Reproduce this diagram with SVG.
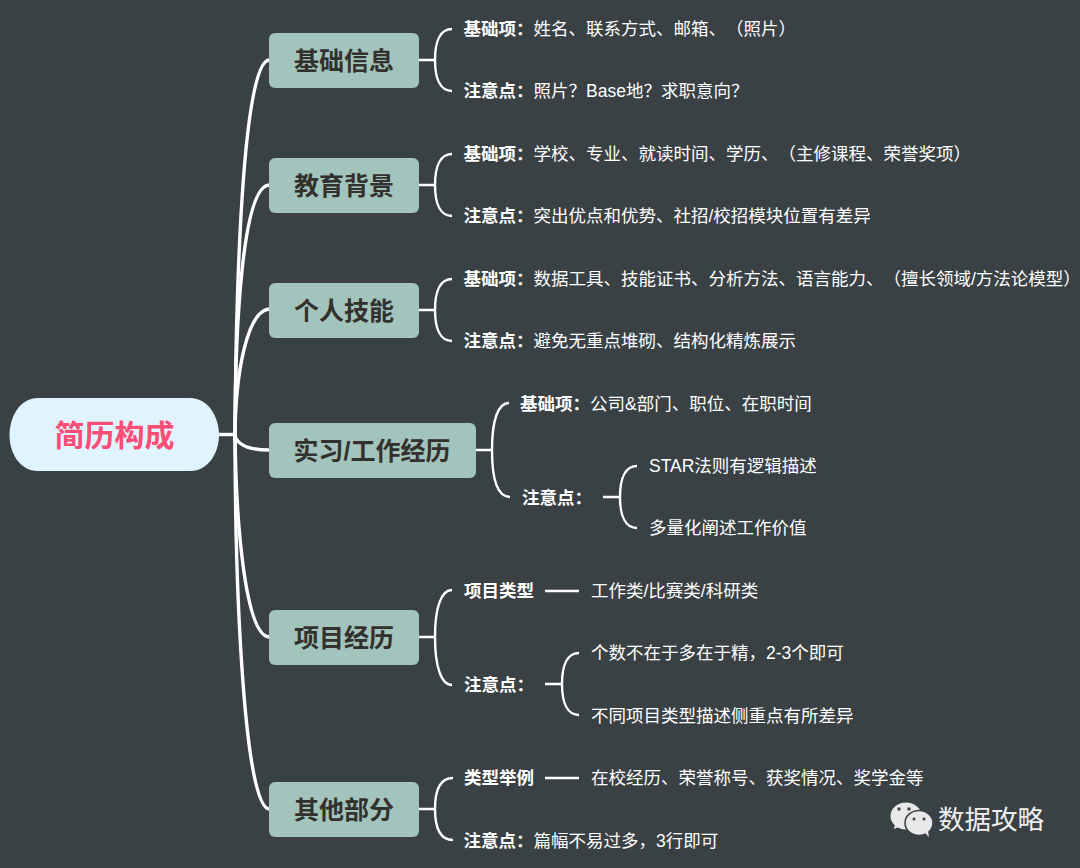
<svg xmlns="http://www.w3.org/2000/svg" width="1080" height="868" viewBox="0 0 1080 868">
<style>
text{font-family:"Liberation Sans","Noto Sans CJK SC",sans-serif;text-spacing-trim:space-all;text-autospace:no-autospace}
.t{font-size:25px;font-weight:700;fill:#33312e;text-anchor:middle}
.b{font-size:17.5px;font-weight:700;fill:#fff}
.n{font-size:17.5px;fill:#fff}
.box{fill:#a2c4bd}
.c{fill:none;stroke:#fff;stroke-linecap:butt}
.c3{stroke-width:3.4}
.c2{stroke-width:2.4}
</style>
<rect width="1080" height="868" fill="#3a4144"/>
<g id="connectors">
<path class="c c3" d="M219 434.500H235"/>
<path class="c c3" d="M235 440C236 250 245 62 269 60"/>
<path class="c c3" d="M235 440C235 320 243 187 269 185"/>
<path class="c c3" d="M235 440C235 370 248 311 269 309"/>
<path class="c c3" d="M235 436C238 445 248 450 269 450"/>
<path class="c c3" d="M235 432C236 530 246 635 269 637"/>
<path class="c c3" d="M235 432C235 600 245 807 269 809"/>
<g class="c c2">
<path d="M419 60H435M452 29C441 29 435 40 435 60C435 80 441 91 452 91"/>
<path d="M419 185H435M452 154C441 154 435 165 435 185C435 205 441 216 452 216"/>
<path d="M419 310H435M452 279C441 279 435 290 435 310C435 330 441 341 452 341"/>
<path d="M476 450H492M509 403C498 403 492 420 492 450C492 480 498 497 510 497"/>
<path d="M603 497H620M637 466C626 466 620 477 620 497C620 517 626 528 637 528"/>
<path d="M419 637H435M452 590C441 590 435 608 435 637C435 666 441 685 452 685"/>
<path d="M545 591H579"/>
<path d="M545 684H562M579 653C568 653 562 664 562 684C562 704 568 715 579 715"/>
<path d="M419 809H435M453 778C441 778 435 789 435 809C435 829 441 840 453 840"/>
<path d="M545 778H579"/>
</g>
</g>
<g id="root"><path d="M38 398H190C209 398 219 418 219 435C219 452 209 471 190 471H38C19 471 9.500 452 9.500 435C9.500 418 19 398 38 398Z" fill="#e0f4ff"/><text x="114.500" y="446" text-anchor="middle" font-size="30" font-weight="700" fill="#fb4d75">简历构成</text></g>
<g id="n1"><rect class="box" x="269" y="33" width="150" height="55" rx="6"/><text class="t" x="344" y="70">基础信息</text></g>
<g id="n2"><rect class="box" x="269" y="158" width="150" height="55" rx="6"/><text class="t" x="344" y="195">教育背景</text></g>
<g id="n3"><rect class="box" x="269" y="283" width="150" height="55" rx="6"/><text class="t" x="344" y="320">个人技能</text></g>
<g id="n4"><rect class="box" x="269" y="423" width="207" height="55" rx="6"/><text class="t" x="372" y="460">实习/工作经历</text></g>
<g id="n5"><rect class="box" x="269" y="610" width="150" height="55" rx="6"/><text class="t" x="344" y="647">项目经历</text></g>
<g id="n6"><rect class="box" x="269" y="782" width="150" height="55" rx="6"/><text class="t" x="344" y="819">其他部分</text></g>
<g id="l1a"><text class="b" x="463.500" y="35">基础项：</text><text class="n" x="533.500" y="35">姓名、联系方式、邮箱、（照片）</text></g>
<g id="l1b"><text class="b" x="463.500" y="97">注意点：</text><text class="n" x="533.500" y="97">照片？Base地？求职意向？</text></g>
<g id="l2a"><text class="b" x="463.500" y="160">基础项：</text><text class="n" x="533.500" y="160">学校、专业、就读时间、学历、（主修课程、荣誉奖项）</text></g>
<g id="l2b"><text class="b" x="463.500" y="222">注意点：</text><text class="n" x="533.500" y="222">突出优点和优势、社招/校招模块位置有差异</text></g>
<g id="l3a"><text class="b" x="463.500" y="285">基础项：</text><text class="n" x="533.500" y="285">数据工具、技能证书、分析方法、语言能力、（擅长领域/方法论模型）</text></g>
<g id="l3b"><text class="b" x="463.500" y="347">注意点：</text><text class="n" x="533.500" y="347">避免无重点堆砌、结构化精炼展示</text></g>
<g id="l4a"><text class="b" x="520" y="410">基础项：</text><text class="n" x="590" y="410">公司&amp;部门、职位、在职时间</text></g>
<g id="l4b"><text class="b" x="522" y="504">注意点：</text></g>
<g id="l4c"><text class="n" x="649" y="472">STAR法则有逻辑描述</text></g>
<g id="l4d"><text class="n" x="649" y="534">多量化阐述工作价值</text></g>
<g id="l5a"><text class="b" x="464" y="597">项目类型</text></g>
<g id="l5a1"><text class="n" x="591" y="597">工作类/比赛类/科研类</text></g>
<g id="l5b"><text class="b" x="464" y="691">注意点：</text></g>
<g id="l5c"><text class="n" x="591" y="659">个数不在于多在于精，2-3个即可</text></g>
<g id="l5d"><text class="n" x="591" y="722">不同项目类型描述侧重点有所差异</text></g>
<g id="l6a"><text class="b" x="464" y="784">类型举例</text></g>
<g id="l6a1"><text class="n" x="591" y="784">在校经历、荣誉称号、获奖情况、奖学金等</text></g>
<g id="l6b"><text class="b" x="463.500" y="847">注意点：</text><text class="n" x="533.500" y="847">篇幅不易过多，3行即可</text></g>
<g id="watermark">
<ellipse cx="906" cy="816" rx="15.500" ry="13.500" fill="#e8e8e8"/>
<path d="M895 824l-1 5 7-3z" fill="#e8e8e8"/>
<ellipse cx="919" cy="823" rx="14" ry="12.500" fill="#e8e8e8" stroke="#3a4144" stroke-width="1.500"/>
<path d="M925 833l4 4-1-6z" fill="#e8e8e8"/>
<circle cx="899" cy="809" r="1.700" fill="#3a4144"/><circle cx="909" cy="809" r="1.700" fill="#3a4144"/>
<circle cx="914" cy="819" r="1.500" fill="#3a4144"/><circle cx="924" cy="819" r="1.500" fill="#3a4144"/>
<text x="938" y="829" font-size="26.500" fill="#eee">数据攻略</text>
</g>
</svg>
